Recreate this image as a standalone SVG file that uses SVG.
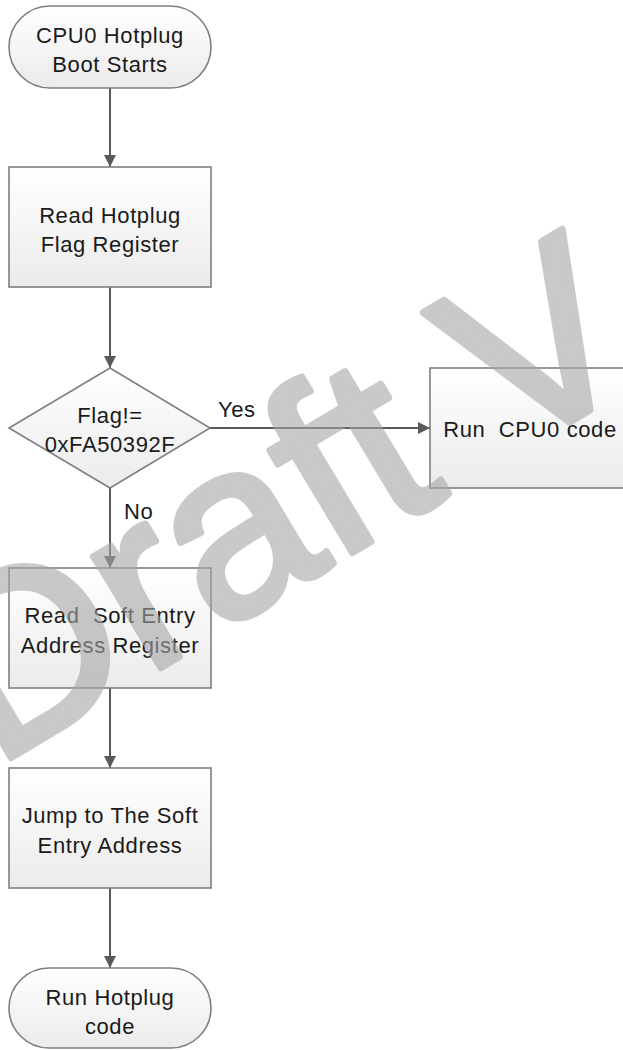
<svg xmlns="http://www.w3.org/2000/svg" width="623" height="1050" viewBox="0 0 623 1050">
<defs>
<linearGradient id="g" x1="0" y1="0" x2="0" y2="1">
<stop offset="0" stop-color="#ffffff"/>
<stop offset="1" stop-color="#ebebeb"/>
</linearGradient>
<marker id="arr" viewBox="0 0 12 12" markerWidth="12" markerHeight="12" refX="12" refY="6" orient="auto" markerUnits="userSpaceOnUse">
<path d="M0,0 L12,6 L0,12 Z" fill="#595959"/>
</marker>
<style>
.shape{fill:url(#g);stroke:#7f7f7f;stroke-width:1.6}
.t{font-family:"Liberation Sans",Arial,sans-serif;font-size:22px;letter-spacing:0.6px;fill:#1a1a1a;text-anchor:middle}
.lab{font-family:"Liberation Sans",Arial,sans-serif;font-size:22px;letter-spacing:0.6px;fill:#1a1a1a}
.c{stroke:#595959;stroke-width:2;fill:none;marker-end:url(#arr)}
.wm{font-family:"Liberation Sans",Arial,sans-serif;font-size:246px;fill:#a6a6a6;stroke:#a6a6a6;stroke-width:7;stroke-linejoin:round;opacity:0.6}
</style>
</defs>
<rect width="623" height="1050" fill="#ffffff"/>
<g id="connectors">
<line class="c" x1="110" y1="88" x2="110" y2="167"/>
<line class="c" x1="110" y1="287" x2="110" y2="368"/>
<line class="c" x1="210" y1="428" x2="430" y2="428"/>
<line class="c" x1="110" y1="488" x2="110" y2="568"/>
<line class="c" x1="110" y1="688" x2="110" y2="768"/>
<line class="c" x1="110" y1="888" x2="110" y2="968"/>
<text class="lab" x="218" y="417">Yes</text>
<text class="lab" x="124" y="519">No</text>
</g>
<g id="start">
<rect class="shape" x="9" y="6" width="202" height="82" rx="41"/>
<text class="t" x="110" y="43">CPU0 Hotplug</text>
<text class="t" x="110" y="72">Boot Starts</text>
</g>
<g id="readflag">
<rect class="shape" x="9" y="167" width="202" height="120"/>
<text class="t" x="110" y="223">Read Hotplug</text>
<text class="t" x="110" y="252">Flag Register</text>
</g>
<g id="decision">
<polygon class="shape" points="110,368 210,428 110,488 9,428"/>
<text class="t" x="110" y="423">Flag!=</text>
<text class="t" x="110" y="452">0xFA50392F</text>
</g>
<g id="runcpu0">
<rect class="shape" x="430" y="368" width="201" height="120"/>
<text class="t" x="530" y="437" xml:space="preserve">Run  CPU0 code</text>
</g>
<g id="readsoft">
<rect class="shape" x="9" y="568" width="202" height="120"/>
<text class="t" x="110" y="623" xml:space="preserve">Read  Soft Entry</text>
<text class="t" x="110" y="653">Address Register</text>
</g>
<g id="jump">
<rect class="shape" x="9" y="768" width="202" height="120"/>
<text class="t" x="110" y="823">Jump to The Soft</text>
<text class="t" x="110" y="853">Entry Address</text>
</g>
<g id="end">
<rect class="shape" x="9" y="968" width="202" height="80" rx="40"/>
<text class="t" x="110" y="1005">Run Hotplug</text>
<text class="t" x="110" y="1034">code</text>
</g>
<text class="wm" transform="translate(-6,768) rotate(-31)">Draft V</text>
</svg>
